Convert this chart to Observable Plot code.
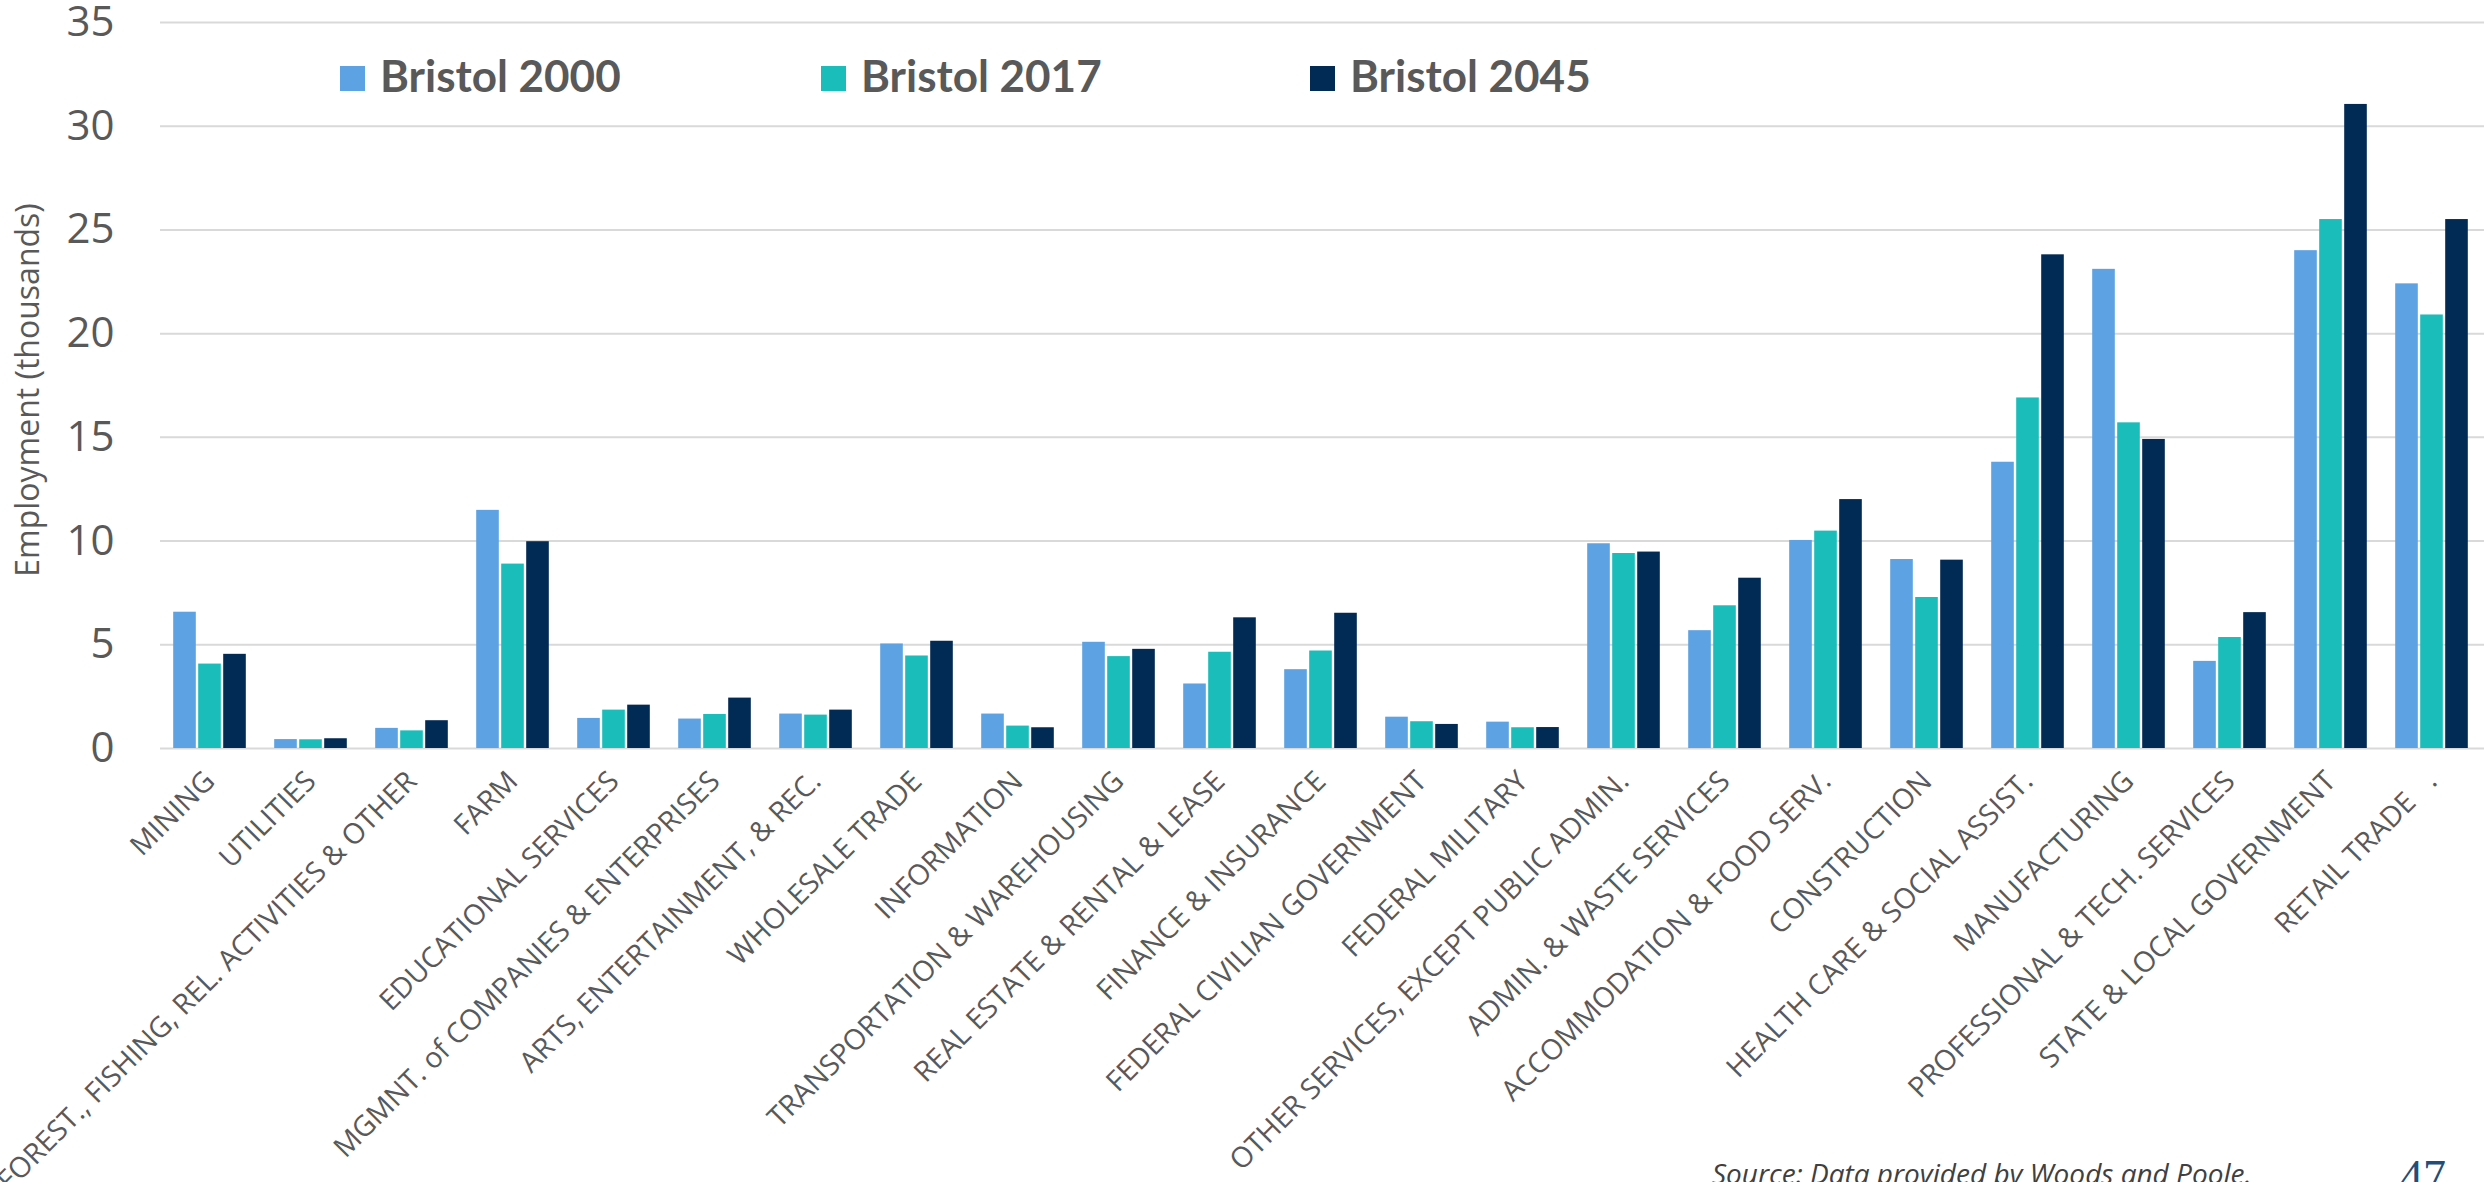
<!DOCTYPE html>
<html>
<head>
<meta charset="utf-8">
<script src="https://cdn.jsdelivr.net/npm/d3@7"></script>
<script src="https://cdn.jsdelivr.net/npm/@observablehq/plot@0.6"></script>
<style>
  html, body { margin: 0; padding: 0; background: #ffffff; overflow: hidden; }
  #wrap { position: relative; width: 2484px; height: 1182px; }
  #wrap > svg, #wrap > figure { position: absolute; left: 0; top: 0; margin: 0; }
</style>
</head>
<body>
<div id="wrap"></div>
<script>
// ---- data ----
const categories = [
  "MINING", "UTILITIES", "FOREST., FISHING, REL. ACTIVITIES & OTHER", "FARM",
  "EDUCATIONAL SERVICES", "MGMNT. of COMPANIES & ENTERPRISES", "ARTS, ENTERTAINMENT, & REC.",
  "WHOLESALE TRADE", "INFORMATION", "TRANSPORTATION & WAREHOUSING", "REAL ESTATE & RENTAL & LEASE",
  "FINANCE & INSURANCE", "FEDERAL CIVILIAN GOVERNMENT", "FEDERAL MILITARY",
  "OTHER SERVICES, EXCEPT PUBLIC ADMIN.", "ADMIN. & WASTE SERVICES", "ACCOMMODATION & FOOD SERV.",
  "CONSTRUCTION", "HEALTH CARE & SOCIAL ASSIST.", "MANUFACTURING", "PROFESSIONAL & TECH. SERVICES",
  "STATE & LOCAL GOVERNMENT", "RETAIL TRADE\u00a0\u00a0\u00a0."
];
const seriesNames = ["Bristol 2000", "Bristol 2017", "Bristol 2045"];
const bristol2000 = [6.57, 0.43, 0.97, 11.48, 1.45, 1.42, 1.66, 5.04, 1.66, 5.12, 3.11, 3.80, 1.51, 1.27, 9.87, 5.68, 10.03, 9.11, 13.8, 23.1, 4.2, 24.0, 22.4];
const bristol2017 = [4.07, 0.42, 0.85, 8.89, 1.85, 1.64, 1.61, 4.46, 1.08, 4.43, 4.64, 4.70, 1.29, 1.00, 9.40, 6.88, 10.48, 7.28, 16.9, 15.7, 5.35, 25.5, 20.9];
const bristol2045 = [4.54, 0.47, 1.34, 9.97, 2.09, 2.43, 1.85, 5.17, 1.00, 4.78, 6.30, 6.52, 1.16, 1.01, 9.47, 8.21, 12.0, 9.08, 23.8, 14.9, 6.55, 31.05, 25.5];
const yTicks = [0, 5, 10, 15, 20, 25, 30, 35];
const seriesColors = ["#5DA2E3", "#1ABDBA", "#012A54"];
const yTitle = "Employment (thousands)";
const sourceText = "Source: Data provided by Woods and Poole.";
const pageNumber = "47";

const seriesValues = [bristol2000, bristol2017, bristol2045];
const table = [];
categories.forEach((c, i) => {
  seriesNames.forEach((s, j) => table.push({category: c, series: s, value: seriesValues[j][i]}));
});

const W = 2484, H = 1182;
const wrap = document.getElementById("wrap");

// background: gridlines + y tick labels
const bg = Plot.plot({
  width: W, height: H,
  marginLeft: 160, marginRight: 0, marginTop: 22, marginBottom: 434,
  y: {domain: [0, 35], ticks: yTicks, tickSize: 0, tickPadding: 46, label: null},
  marks: [
    Plot.ruleY(yTicks, {stroke: "#d9d9d9", strokeWidth: 2})
  ],
  style: {fontFamily: "Open Sans", fontSize: "42px", color: "#595959", background: "#ffffff"}
});
wrap.appendChild(bg);

// foreground: grouped bars with category labels
const fg = Plot.plot({
  width: W, height: H,
  marginLeft: 156, marginRight: 0, marginTop: 22, marginBottom: 434,
  fx: {domain: categories, paddingInner: 0.26, paddingOuter: 0.13, label: null, axis: "bottom",
       tickRotate: -45, tickSize: 0, tickPadding: 28},
  x: {domain: seriesNames, padding: 0, axis: null},
  y: {domain: [0, 35], axis: null},
  color: {domain: seriesNames, range: seriesColors},
  marks: [
    Plot.barY(table, {fx: "category", x: "series", y: "value", fill: "series", insetLeft: 1.2, insetRight: 1.2})
  ],
  style: {fontFamily: "Open Sans", fontSize: "28.5px", color: "#595959", background: "transparent"}
});
wrap.appendChild(fg);

// overlay: legend, axis title, source, page number
const ov = d3.select(wrap).append("svg")
  .attr("width", W).attr("height", H)
  .style("position", "absolute").style("left", 0).style("top", 0)
  .style("pointer-events", "none");

const legendX = [340, 821, 1310];
seriesNames.forEach((s, i) => {
  ov.append("rect").attr("x", legendX[i]).attr("y", 66).attr("width", 25).attr("height", 25)
    .attr("fill", seriesColors[i]);
  ov.append("text").attr("x", legendX[i] + 40).attr("y", 92)
    .attr("font-family", "Lato").attr("font-weight", 700).attr("font-size", 44)
    .attr("fill", "#595959").text(s);
});

ov.append("text")
  .attr("transform", "translate(26,390) rotate(-90)")
  .attr("text-anchor", "middle").attr("dominant-baseline", "central")
  .attr("font-family", "Open Sans").attr("font-size", 32).attr("fill", "#595959")
  .text(yTitle);

ov.append("text").attr("x", 1712).attr("y", 1184)
  .attr("font-family", "Open Sans").attr("font-style", "italic").attr("font-size", 28)
  .attr("fill", "#404040").text(sourceText);

ov.append("text").attr("x", 2400).attr("y", 1192)
  .attr("font-family", "Liberation Serif").attr("font-size", 46)
  .attr("fill", "#1F4E79").text(pageNumber);
</script>
</body>
</html>
